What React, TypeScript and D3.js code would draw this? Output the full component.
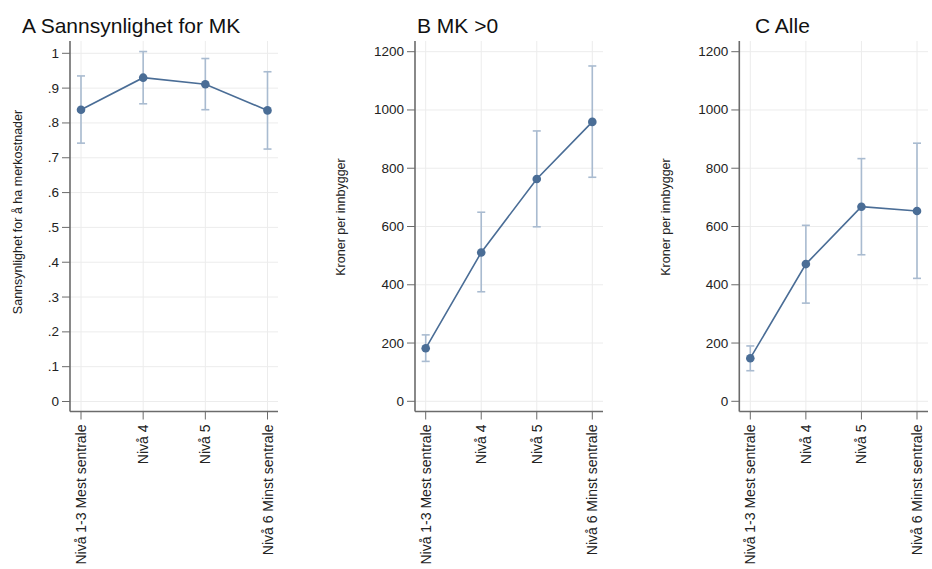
import React from "react";
import * as d3 from "d3";

const categories = ["Nivå 1-3 Mest sentrale", "Nivå 4", "Nivå 5", "Nivå 6 Minst sentrale"];

const probEst = [0.838, 0.930, 0.911, 0.836];
const probLo = [0.742, 0.855, 0.838, 0.725];
const probHi = [0.935, 1.005, 0.985, 0.947];
const probTicks = [0, 0.1, 0.2, 0.3, 0.4, 0.5, 0.6, 0.7, 0.8, 0.9, 1];

const posEst = [182, 511, 763, 959];
const posLo = [137, 376, 599, 769];
const posHi = [228, 649, 928, 1151];

const allEst = [148, 471, 668, 653];
const allLo = [105, 337, 503, 422];
const allHi = [190, 604, 833, 886];

const kronerTicks = [0, 200, 400, 600, 800, 1000, 1200];

const panelTitles = ["A Sannsynlighet for MK", "B MK >0", "C Alle"];
const yTitles = ["Sannsynlighet for å ha merkostnader", "Kroner per innbygger", "Kroner per innbygger"];

const fmtProb = (v: number) => (v === 0 ? "0" : v === 1 ? "1" : d3.format(".1f")(v).replace(/^0/, ""));
const fmtKr = (v: number) => String(v);

const LINE = "#4a6d96";
const CI = "#a9bbd0";
const GRID = "#ececec";
const AXIS = "#6b6b6b";
const TEXT = "#222";
const FONT = "Arial, 'Liberation Sans', sans-serif";

type PanelProps = {
  title: string;
  yTitle: string;
  est: number[];
  lo: number[];
  hi: number[];
  ticks: number[];
  fmt: (v: number) => string;
  domain: [number, number];
  yRange: [number, number];
  axisX: number;
  right: number;
  xFirst: number;
  xLast: number;
  titleX: number;
  yTitleX: number;
  yTitleY: number;
};

function Panel(p: PanelProps) {
  const top = 41;
  const bottom = 411.5;
  const y = d3.scaleLinear().domain(p.domain).range(p.yRange);
  const x = d3.scalePoint<string>().domain(categories).range([p.xFirst, p.xLast]);
  const line = d3
    .line<number>()
    .x((_, i) => x(categories[i]) as number)
    .y((d) => y(d));
  const cap = 4;
  return (
    <g>
      <text x={p.titleX} y={33} fontSize={21} fill="#111" fontFamily={FONT}>
        {p.title}
      </text>
      {p.ticks.map((t) => (
        <line key={"hg" + t} x1={p.axisX} x2={p.right} y1={y(t)} y2={y(t)} stroke={GRID} strokeWidth={1} />
      ))}
      {categories.map((c) => (
        <line key={"vg" + c} x1={x(c)} x2={x(c)} y1={top} y2={bottom} stroke={GRID} strokeWidth={1} />
      ))}
      <line x1={p.axisX} x2={p.axisX} y1={top} y2={bottom} stroke={AXIS} strokeWidth={1.6} />
      <line x1={p.axisX} x2={p.right} y1={bottom} y2={bottom} stroke={AXIS} strokeWidth={1.6} />
      {p.ticks.map((t) => (
        <g key={"yt" + t}>
          <line x1={p.axisX - 8} x2={p.axisX} y1={y(t)} y2={y(t)} stroke={AXIS} strokeWidth={1} />
          <text
            x={p.axisX - 11}
            y={y(t)}
            textAnchor="end"
            dominantBaseline="central"
            fontSize={13.5}
            fill={TEXT}
            fontFamily={FONT}
          >
            {p.fmt(t)}
          </text>
        </g>
      ))}
      {categories.map((c) => (
        <g key={"xt" + c}>
          <line x1={x(c)} x2={x(c)} y1={bottom} y2={bottom + 8} stroke={AXIS} strokeWidth={1} />
          <text
            transform={`translate(${x(c)},${bottom + 13}) rotate(-90)`}
            textAnchor="end"
            dominantBaseline="central"
            fontSize={14}
            fill={TEXT}
            fontFamily={FONT}
          >
            {c}
          </text>
        </g>
      ))}
      <text
        transform={`translate(${p.yTitleX},${p.yTitleY}) rotate(-90)`}
        textAnchor="middle"
        fontSize={12.5}
        fill={TEXT}
        fontFamily={FONT}
      >
        {p.yTitle}
      </text>
      {categories.map((c, i) => (
        <g key={"ci" + c} stroke={CI} strokeWidth={1.6}>
          <line x1={x(c)} x2={x(c)} y1={y(p.lo[i])} y2={y(p.hi[i])} />
          <line x1={(x(c) as number) - cap} x2={(x(c) as number) + cap} y1={y(p.lo[i])} y2={y(p.lo[i])} />
          <line x1={(x(c) as number) - cap} x2={(x(c) as number) + cap} y1={y(p.hi[i])} y2={y(p.hi[i])} />
        </g>
      ))}
      <path d={line(p.est) || ""} fill="none" stroke={LINE} strokeWidth={1.6} />
      {categories.map((c, i) => (
        <circle key={"pt" + c} cx={x(c)} cy={y(p.est[i])} r={4.3} fill={LINE} />
      ))}
    </g>
  );
}

export default function App() {
  return (
    <svg width={932} height={569} style={{ position: "absolute", left: 0, top: 0, background: "#fff" }}>
      <rect width={932} height={569} fill="#fff" />
      <Panel
        title={panelTitles[0]}
        yTitle={yTitles[0]}
        est={probEst}
        lo={probLo}
        hi={probHi}
        ticks={probTicks}
        fmt={fmtProb}
        domain={[0, 1]}
        yRange={[401.5, 53.3]}
        axisX={70}
        right={278}
        xFirst={81}
        xLast={267.5}
        titleX={22}
        yTitleX={22}
        yTitleY={212}
      />
      <Panel
        title={panelTitles[1]}
        yTitle={yTitles[1]}
        est={posEst}
        lo={posLo}
        hi={posHi}
        ticks={kronerTicks}
        fmt={fmtKr}
        domain={[0, 1200]}
        yRange={[401.3, 51.7]}
        axisX={415}
        right={603}
        xFirst={425.7}
        xLast={592.3}
        titleX={417}
        yTitleX={345}
        yTitleY={217}
      />
      <Panel
        title={panelTitles[2]}
        yTitle={yTitles[2]}
        est={allEst}
        lo={allLo}
        hi={allHi}
        ticks={kronerTicks}
        fmt={fmtKr}
        domain={[0, 1200]}
        yRange={[401.3, 51.7]}
        axisX={739.3}
        right={928}
        xFirst={750.3}
        xLast={917}
        titleX={755}
        yTitleX={670}
        yTitleY={217}
      />
    </svg>
  );
}
